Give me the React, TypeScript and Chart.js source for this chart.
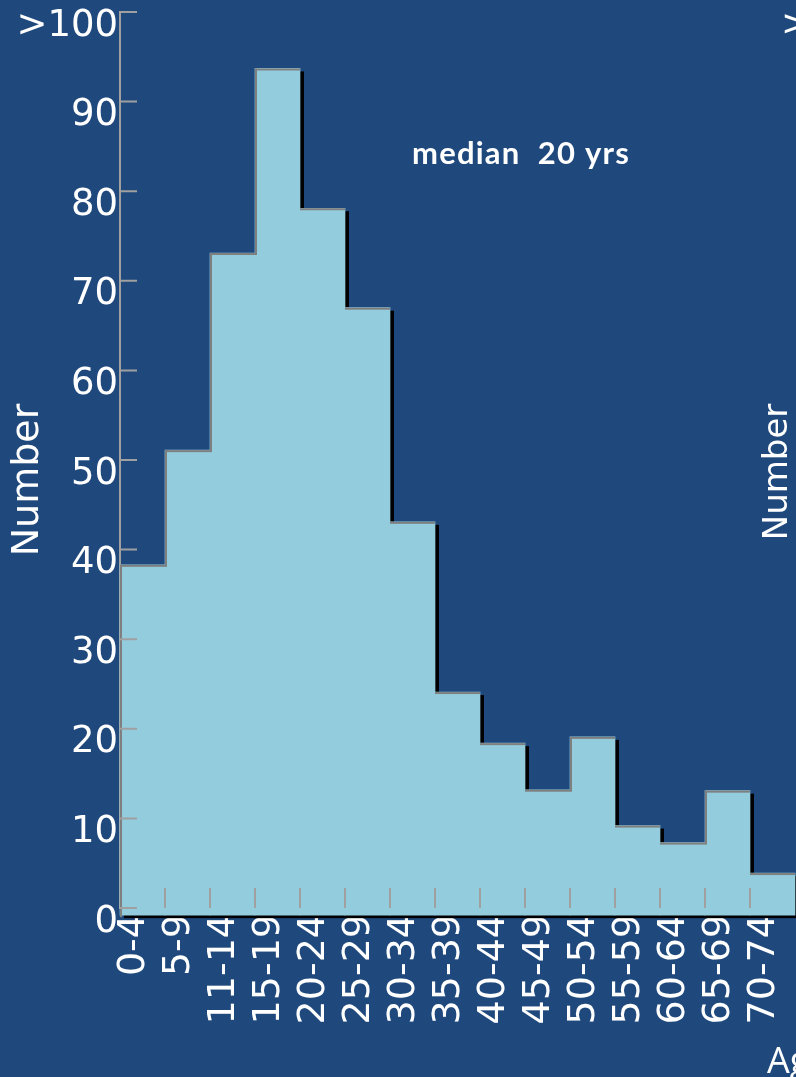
import React, { useEffect, useRef } from 'react';
import { Chart, registerables } from 'chart.js';

Chart.register(...registerables);

// ---- data ----
const categories = ['0-4', '5-9', '11-14', '15-19', '20-24', '25-29', '30-34', '35-39', '40-44', '45-49', '50-54', '55-59', '60-64', '65-69', '70-74'];
const counts = [38.3, 51.1, 73.1, 93.7, 78.1, 67, 43.1, 24.1, 18.4, 13.2, 19.1, 9.2, 7.3, 13.1, 3.9];
const yMin = 0;
const yMax = 100;
const yStep = 10;
const yTopLabel = '>100';
const yTitle = 'Number';
const medianNote = 'median  20 yrs';
const xTitle = 'Age';
const secondYTitle = 'Number';
const secondTopLabel = '>';

// ---- style ----
const W = 796;
const H = 1077;
const BG = '#1F497D';
const BAR = '#93CDDD';
const OUTLINE = '#7F7F7F';
const AXIS = '#A0A0A0';
const SHADOW = '#000000';
const BAR_BASE = -0.8;
const FONT = "'DejaVu Sans'";

const zeroPad = (s: any) => {
  s.paddingTop = 0;
  s.paddingBottom = 0;
  s.paddingLeft = 0;
  s.paddingRight = 0;
};

const histogramDecor = {
  id: 'histogramDecor',
  beforeDatasetsDraw(chart: any) {
    const ctx = chart.ctx;
    const meta = chart.getDatasetMeta(0);
    ctx.save();
    ctx.fillStyle = SHADOW;
    meta.data.forEach((el: any) => {
      const p = el.getProps(['x', 'y', 'width', 'base'], true);
      const left = p.x - p.width / 2;
      ctx.fillRect(left + 4, p.y + 3, p.width, p.base - p.y);
    });
    ctx.restore();
  },
  afterDatasetsDraw(chart: any) {
    const ctx = chart.ctx;
    const meta = chart.getDatasetMeta(0);
    ctx.save();
    ctx.fillStyle = OUTLINE;
    meta.data.forEach((el: any, i: number) => {
      const p = el.getProps(['x', 'y', 'width', 'base'], true);
      const left = p.x - p.width / 2;
      ctx.fillRect(left, p.y, p.width, 2);
      const prevTop = i > 0 ? meta.data[i - 1].getProps(['y'], true).y : p.base;
      if (p.y < prevTop) ctx.fillRect(left, p.y, 2, prevTop - p.y + 2);
    });
    ctx.restore();
  },
  afterDraw(chart: any) {
    const ctx = chart.ctx;
    const xs = chart.scales.x;
    const ys = chart.scales.y;
    const y0 = ys.getPixelForValue(0);
    const x0 = chart.chartArea.left;
    ctx.save();
    ctx.strokeStyle = AXIS;
    ctx.lineWidth = 2;
    ctx.beginPath();
    for (let i = 1; i < categories.length; i++) {
      const bx = (xs.getPixelForTick(i - 1) + xs.getPixelForTick(i)) / 2;
      ctx.moveTo(bx, y0 - 20);
      ctx.lineTo(bx, y0);
    }
    ys.ticks.forEach((t: any) => {
      const py = ys.getPixelForValue(t.value);
      ctx.moveTo(x0, py);
      ctx.lineTo(x0 + 17, py);
    });
    ctx.stroke();

    ctx.fillStyle = '#FFFFFF';
    // left y title
    ctx.save();
    ctx.translate(28, 480);
    ctx.rotate(-Math.PI / 2);
    ctx.font = `38px ${FONT}`;
    ctx.textAlign = 'center';
    ctx.textBaseline = 'middle';
    ctx.fillText(yTitle, 0, 0);
    ctx.restore();
    // second chart y title (cut off at the right)
    ctx.save();
    ctx.translate(778, 472);
    ctx.rotate(-Math.PI / 2);
    ctx.font = `34px ${FONT}`;
    ctx.textAlign = 'center';
    ctx.textBaseline = 'middle';
    ctx.fillText(secondYTitle, 0, 0);
    ctx.restore();
    // second chart top label
    ctx.font = `36px ${FONT}`;
    ctx.textAlign = 'left';
    ctx.textBaseline = 'middle';
    ctx.fillText(secondTopLabel, 781, 26);
    // x title
    ctx.textBaseline = 'alphabetic';
    ctx.font = `36px 'Open Sans'`;
    ctx.fillText(xTitle, 767, 1073);
    // median note
    ctx.font = `bold 31px Lato`;
    (ctx as any).letterSpacing = '1.2px';
    ctx.fillText(medianNote, 412, 164);
    ctx.restore();
  },
};

export default function App() {
  const ref = useRef<HTMLCanvasElement | null>(null);
  useEffect(() => {
    if (!ref.current) return;
    const chart = new Chart(ref.current, {
      type: 'bar',
      data: {
        labels: categories,
        datasets: [
          {
            data: counts.map((v) => [BAR_BASE, v]) as any,
            backgroundColor: BAR,
            borderWidth: 0,
            barPercentage: 1,
            categoryPercentage: 1,
            clip: false as any,
          },
        ],
      },
      options: {
        responsive: false,
        animation: false,
        events: [],
        layout: { padding: { left: 0, top: 12, right: 1, bottom: 0 }, autoPadding: false },
        plugins: { legend: { display: false }, tooltip: { enabled: false } },
        scales: {
          x: {
            z: 1,
            afterFit: (s: any) => { s.height = 169; zeroPad(s); },
            grid: { display: true, drawOnChartArea: false, drawTicks: false },
            border: { display: true, color: AXIS, width: 2 },
            ticks: {
              autoSkip: false,
              maxRotation: 90,
              minRotation: 90,
              padding: 6,
              labelOffset: -8,
              color: '#FFFFFF',
              font: { family: 'DejaVu Sans', size: 38 },
            },
          },
          y: {
            z: 1,
            min: yMin,
            max: yMax,
            afterFit: (s: any) => { s.width = 120; zeroPad(s); },
            grid: { display: true, drawOnChartArea: false, drawTicks: false },
            border: { display: true, color: AXIS, width: 2 },
            ticks: {
              stepSize: yStep,
              padding: 2,
              labelOffset: 14,
              color: '#FFFFFF',
              font: { family: 'DejaVu Sans', size: 37 },
              callback: (v: any) => (v === yMax ? yTopLabel : String(v)),
            },
          },
        },
      },
      plugins: [histogramDecor],
    });
    return () => chart.destroy();
  }, []);
  return (
    <div style={{ position: 'absolute', left: 0, top: 0, width: W, height: H, background: BG, overflow: 'hidden' }}>
      <canvas ref={ref} width={W} height={H} style={{ width: W, height: H, display: 'block' }} />
    </div>
  );
}
